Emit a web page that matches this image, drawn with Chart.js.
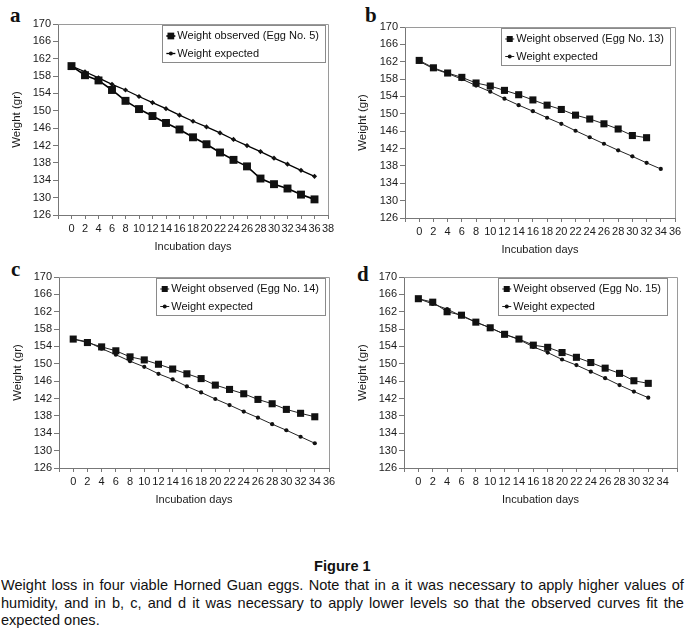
<!DOCTYPE html>
<html>
<head>
<meta charset="utf-8">
<script src="https://cdn.jsdelivr.net/npm/chart.js@4.4.0/dist/chart.umd.min.js"></script>
<style>
  body { margin:0; background:#fff; width:685px; height:632px; position:relative; overflow:hidden;
         font-family:"Liberation Sans", Arial, sans-serif; color:#111; }
  canvas { position:absolute; }
  .tag { position:absolute; font:bold 21px "Liberation Serif","Times New Roman",serif; line-height:21px; color:#111; }
  #figtitle { position:absolute; left:0; top:557px; width:706px; text-align:center; font-weight:bold; font-size:15px; line-height:18px;
              transform:scaleX(0.97); transform-origin:0 0; }
  #caption { position:absolute; left:1px; top:576px; width:704px; font-size:15px; line-height:17.5px;
             transform:scaleX(0.97); transform-origin:0 0; }
  #caption div { text-align:justify; text-align-last:justify; white-space:nowrap; }
  #caption div.last { text-align-last:left; }
</style>
</head>
<body>
<div class="tag" style="left:10px;top:5px">a</div>
<div class="tag" style="left:365px;top:5px">b</div>
<div class="tag" style="left:11px;top:259px">c</div>
<div class="tag" style="left:357px;top:264px">d</div>

<canvas id="chartA" width="345" height="255" style="left:0;top:0;width:345px;height:255px"></canvas>
<canvas id="chartB" width="340" height="255" style="left:345px;top:0;width:340px;height:255px"></canvas>
<canvas id="chartC" width="345" height="255" style="left:0;top:255px;width:345px;height:255px"></canvas>
<canvas id="chartD" width="340" height="255" style="left:345px;top:255px;width:340px;height:255px"></canvas>

<div id="figtitle">Figure 1</div>
<div id="caption">
  <div>Weight loss in four viable Horned Guan eggs. Note that in a it was necessary to apply higher values of</div>
  <div>humidity, and in b, c, and d it was necessary to apply lower levels so that the observed curves fit the</div>
  <div class="last">expected ones.</div>
</div>

<script>
// incubation days and weights (gr)
let daysA = [0,2,4,6,8,10,12,14,16,18,20,22,24,26,28,30,32,34,36];
let observedA = [160.3,158.2,157.0,154.8,152.3,150.4,148.8,147.2,145.7,143.9,142.3,140.4,138.7,137.2,134.4,133.1,132.1,130.7,129.6];
let expectedA = [160.3,159.0,157.6,156.1,154.8,153.3,151.9,150.5,149.0,147.6,146.3,144.9,143.4,142.0,140.6,139.1,137.7,136.3,134.9];

let daysObsB = [0,2,4,6,8,10,12,14,16,18,20,22,24,26,28,30,32];
let daysExpB = [0,2,4,6,8,10,12,14,16,18,20,22,24,26,28,30,32,34];
let observedB = [162.3,160.6,159.4,158.4,157.1,156.4,155.4,154.4,153.2,152.0,151.0,149.7,148.8,147.7,146.5,145.0,144.5];
let expectedB = [162.1,160.4,159.3,158.0,156.5,155.1,153.5,152.0,150.6,149.1,147.7,146.1,144.6,143.1,141.6,140.2,138.7,137.3];

let daysC = [0,2,4,6,8,10,12,14,16,18,20,22,24,26,28,30,32,34];
let observedC = [155.7,154.9,153.9,153.0,151.6,150.9,149.9,148.8,147.7,146.6,145.1,144.1,143.1,141.8,140.8,139.5,138.6,137.8];
let expectedC = [155.7,155.1,153.5,152.1,150.6,149.3,147.7,146.4,144.8,143.4,141.9,140.5,139.0,137.6,136.1,134.7,133.2,131.7];

let daysD = [0,2,4,6,8,10,12,14,16,18,20,22,24,26,28,30,32];
let observedD = [165.0,164.2,162.0,161.2,159.6,158.3,156.8,155.7,154.3,153.8,152.6,151.5,150.3,149.0,147.8,146.1,145.5];
let expectedD = [165.0,163.8,162.6,161.0,159.6,158.3,156.8,155.6,153.9,152.6,151.0,149.7,148.2,146.7,145.1,143.6,142.2];

let yMin = 126, yMax = 170, yStep = 4;
let expectedLabel = 'Weight expected';

Chart.defaults.font.family = '"Liberation Sans", Arial, sans-serif';
Chart.defaults.color = '#1a1a1a';

function pairs(xs, ys) {
  return ys.map((v, i) => ({ x: xs[i], y: v }));
}

// gray frame on top / right of the plot
const framePlugin = {
  id: 'frame',
  beforeDatasetsDraw(chart) {
    const a = chart.chartArea, ctx = chart.ctx;
    ctx.save();
    ctx.strokeStyle = '#9a9a9a';
    ctx.lineWidth = 1;
    ctx.beginPath();
    ctx.moveTo(a.left, a.top + 0.5);
    ctx.lineTo(a.right + 0.5, a.top + 0.5);
    ctx.lineTo(a.right + 0.5, a.bottom);
    ctx.stroke();
    ctx.restore();
  }
};

// boxed legend inside the plot, top right
const boxLegend = {
  id: 'boxLegend',
  afterDraw(chart, args, opts) {
    const a = chart.chartArea, ctx = chart.ctx;
    const ds = chart.data.datasets;
    ctx.save();
    ctx.font = '11px "Liberation Sans", Arial, sans-serif';
    let tw = Math.max(...ds.map(d => ctx.measureText(d.label).width));
    let w = 15 + tw + 6, h = 37;
    let x0 = a.right - opts.right - w, y0 = a.top + 1;
    ctx.fillStyle = '#fff';
    ctx.fillRect(x0, y0, w, h);
    ctx.strokeStyle = '#8a8a8a';
    ctx.lineWidth = 1;
    ctx.strokeRect(Math.round(x0) + 0.5, Math.round(y0) + 0.5, Math.round(w), h);
    ds.forEach((d, i) => {
      let cy = y0 + 11 + i * 17.5, cx = x0 + 8.5;
      ctx.strokeStyle = d.borderColor;
      ctx.lineWidth = d.borderWidth;
      ctx.beginPath();
      ctx.moveTo(cx - 4.5, cy);
      ctx.lineTo(cx + 4.5, cy);
      ctx.stroke();
      ctx.fillStyle = d.pointBackgroundColor;
      if (d.pointStyle === 'rect') {
        let s = d.pointRadius * Math.SQRT1_2;
        ctx.fillRect(cx - s * 0.85, cy - s * 0.85, s * 1.7, s * 1.7);
      } else {
        ctx.beginPath();
        ctx.arc(cx, cy, 2, 0, Math.PI * 2);
        ctx.fill();
      }
      ctx.fillStyle = '#111';
      ctx.textBaseline = 'middle';
      ctx.fillText(d.label, x0 + 15, cy);
    });
    ctx.restore();
  }
};

function makeChart(id, obsDays, obsVals, expDays, expVals, obsLabel, st) {
  const W = st.w, H = st.h;
  return new Chart(document.getElementById(id), {
    type: 'line',
    data: {
      datasets: [
        {
          label: obsLabel,
          data: pairs(obsDays, obsVals),
          borderColor: st.lineColor,
          borderWidth: st.obsWidth,
          pointStyle: 'rect',
          pointRadius: st.squareR,
          pointBackgroundColor: '#111',
          pointBorderWidth: 0,
          tension: 0
        },
        {
          label: expectedLabel,
          data: pairs(expDays, expVals),
          borderColor: st.lineColor,
          borderWidth: st.expWidth,
          pointStyle: st.dotStyle,
          pointRadius: st.dotR,
          pointBackgroundColor: '#111',
          pointBorderWidth: 0,
          tension: 0
        }
      ]
    },
    options: {
      responsive: false,
      animation: false,
      layout: { padding: { left: 0, top: st.area.t, right: W - st.area.r, bottom: 0 } },
      plugins: {
        legend: { display: false },
        tooltip: { enabled: false },
        boxLegend: { right: st.legendRight }
      },
      scales: {
        x: {
          type: 'linear',
          min: -2,
          max: st.xMax,
          afterFit(s) { s.height = H - st.area.b; },
          ticks: {
            stepSize: 2,
            autoSkip: false,
            maxRotation: 0,
            padding: 3,
            font: { size: 11 },
            callback: v => (v >= 0 && v <= st.lastLabel) ? String(v) : ''
          },
          grid: { drawOnChartArea: false, drawTicks: true, tickLength: 4, color: '#777' },
          border: { display: true, color: '#777' },
          title: {
            display: true,
            text: 'Incubation days',
            font: { size: 11 },
            padding: { top: 0, bottom: H - st.area.b - 32 - 7 }
          }
        },
        y: {
          min: yMin,
          max: yMax,
          afterFit(s) { s.width = st.area.l; },
          ticks: { stepSize: yStep, padding: 2, font: { size: 11 } },
          grid: { drawOnChartArea: false, drawTicks: true, tickLength: 5, color: '#777' },
          border: { display: true, color: '#777' },
          title: {
            display: true,
            text: 'Weight (gr)',
            font: { size: 11.5 },
            padding: { top: st.yTitleX - 7, bottom: 0 }
          }
        }
      }
    },
    plugins: [framePlugin, boxLegend]
  });
}

makeChart('chartA', daysA, observedA, daysA, expectedA, 'Weight observed (Egg No. 5)', {
  w: 345, h: 255, area: { l: 58, r: 328, t: 24, b: 215 }, xMax: 38, lastLabel: 38,
  legendRight: 3, lineColor: '#000', obsWidth: 1.6, expWidth: 1.3,
  squareR: 5.6, dotStyle: 'rectRot', dotR: 2.6, yTitleX: 17
});
makeChart('chartB', daysObsB, observedB, daysExpB, expectedB, 'Weight observed (Egg No. 13)', {
  w: 340, h: 255, area: { l: 60, r: 330, t: 27, b: 218 }, xMax: 36, lastLabel: 36,
  legendRight: 5, lineColor: '#222', obsWidth: 1, expWidth: 1,
  squareR: 5, dotStyle: 'circle', dotR: 2.1, yTitleX: 18
});
makeChart('chartC', daysC, observedC, daysC, expectedC, 'Weight observed (Egg No. 14)', {
  w: 345, h: 255, area: { l: 59, r: 329, t: 22, b: 213 }, xMax: 36, lastLabel: 36,
  legendRight: 4, lineColor: '#222', obsWidth: 1, expWidth: 1,
  squareR: 5, dotStyle: 'circle', dotR: 2.1, yTitleX: 18
});
makeChart('chartD', daysD, observedD, daysD, expectedD, 'Weight observed (Egg No. 15)', {
  w: 340, h: 255, area: { l: 59, r: 332, t: 22, b: 213 }, xMax: 36, lastLabel: 34,
  legendRight: 10, lineColor: '#222', obsWidth: 1, expWidth: 1,
  squareR: 5, dotStyle: 'circle', dotR: 2.1, yTitleX: 18
});
</script>
</body>
</html>
